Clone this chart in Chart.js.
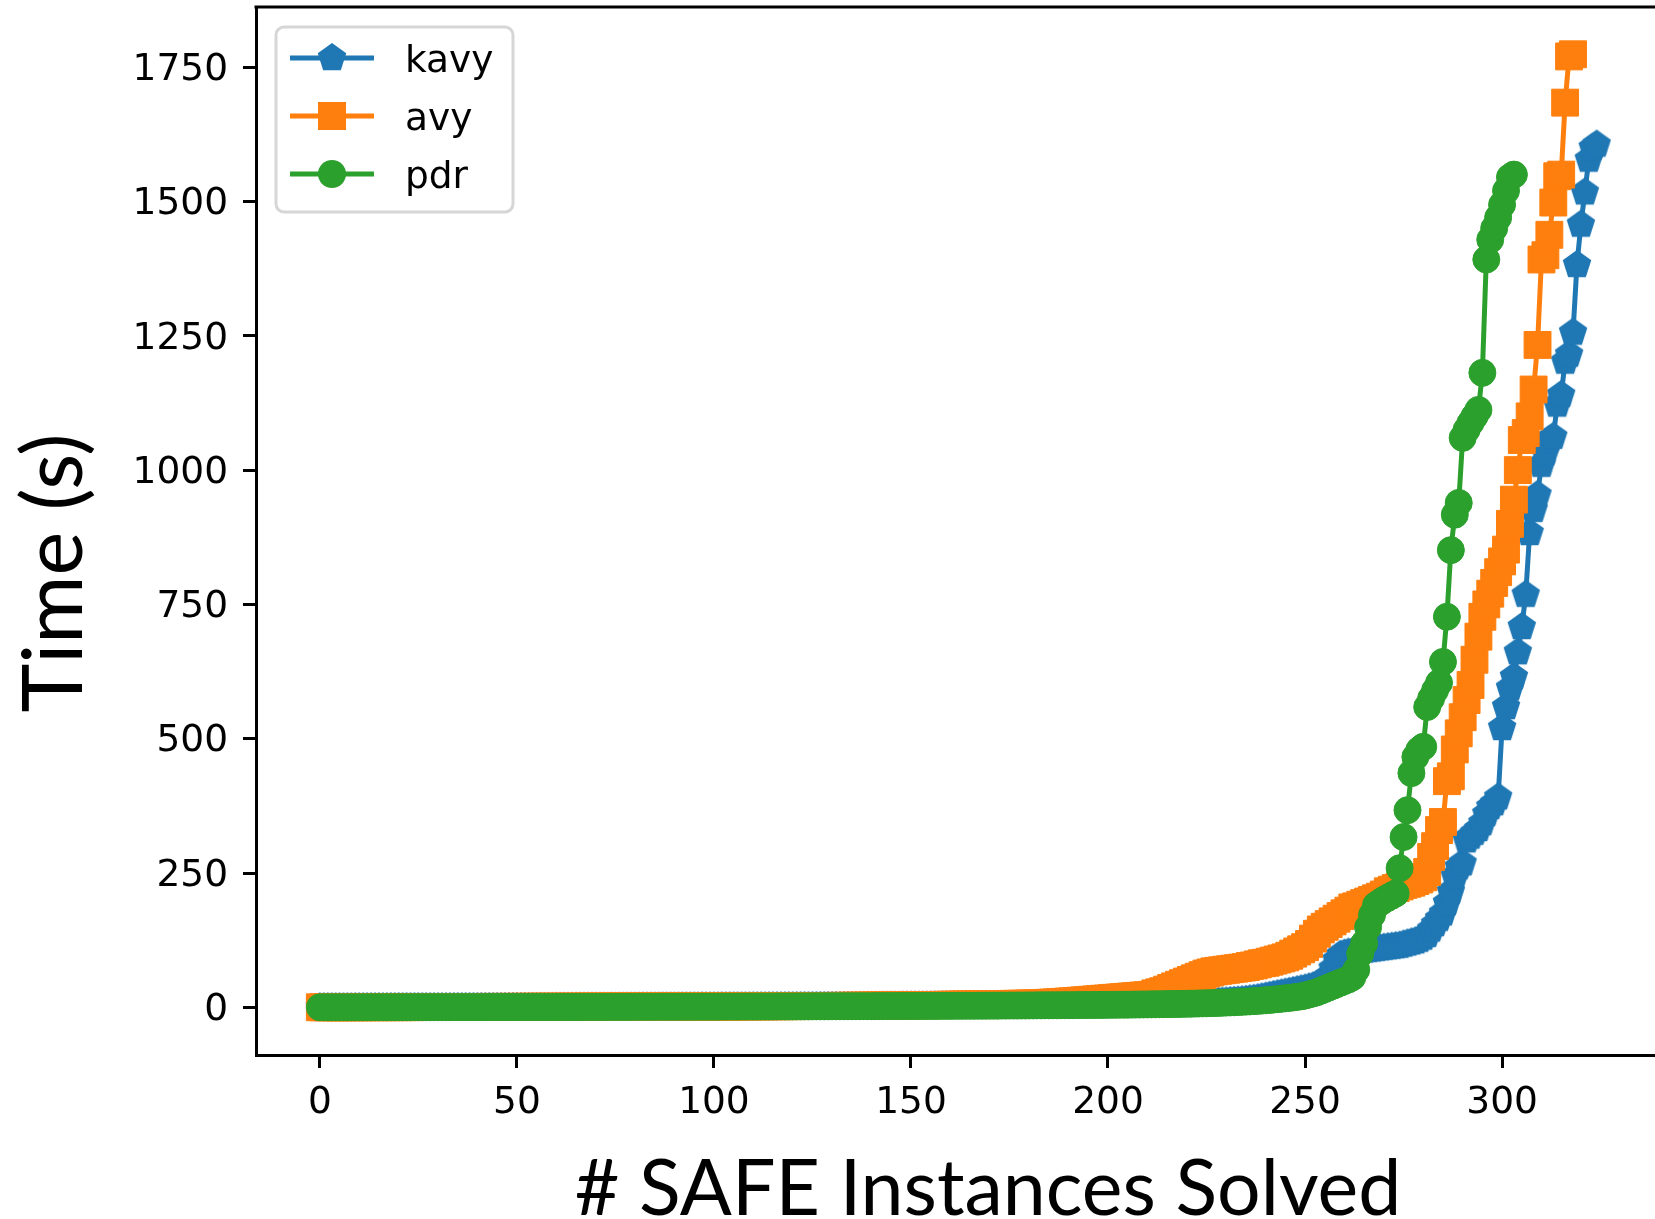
<!DOCTYPE html>
<html>
<head>
<meta charset="utf-8">
<script src="https://cdn.jsdelivr.net/npm/chart.js@4.4.1/dist/chart.umd.min.js"></script>
<style>
  html, body { margin: 0; padding: 0; overflow: hidden; background: #fff; }
  canvas { display: block; }
</style>
</head>
<body>
<canvas id="chart" width="1725" height="1219"></canvas>
<script>
// sorted solve times (s), one entry per solved instance, index = x
const kavyTimes = [
  0.1,0.1,0.1,0.1,0.1,0.1,0.1,0.1,0.1,0.2, 0.2,0.2,0.2,0.2,0.2,0.2,0.2,0.2,0.3,0.3,
  0.3,0.3,0.3,0.3,0.3,0.3,0.3,0.4,0.4,0.4, 0.4,0.4,0.4,0.4,0.5,0.5,0.5,0.5,0.5,0.5,
  0.5,0.6,0.6,0.6,0.6,0.6,0.6,0.6,0.7,0.7, 0.7,0.7,0.7,0.7,0.8,0.8,0.8,0.8,0.8,0.8,
  0.9,0.9,0.9,0.9,0.9,0.9,1.0,1.0,1.0,1.0, 1.0,1.0,1.1,1.1,1.1,1.1,1.1,1.2,1.2,1.2,
  1.2,1.2,1.3,1.3,1.3,1.3,1.3,1.4,1.4,1.4, 1.4,1.4,1.5,1.5,1.5,1.5,1.5,1.6,1.6,1.6,
  1.6,1.6,1.7,1.7,1.7,1.7,1.8,1.8,1.8,1.8, 1.9,1.9,1.9,1.9,2.0,2.0,2.0,2.0,2.1,2.1,
  2.1,2.2,2.2,2.2,2.2,2.3,2.3,2.3,2.4,2.4, 2.4,2.5,2.5,2.5,2.6,2.6,2.6,2.7,2.7,2.7,
  2.8,2.8,2.8,2.9,2.9,3.0,3.0,3.0,3.1,3.1, 3.1,3.2,3.2,3.3,3.3,3.3,3.4,3.4,3.5,3.5,
  3.6,3.6,3.6,3.7,3.7,3.8,3.8,3.9,3.9,4.0, 4.0,4.1,4.1,4.2,4.2,4.3,4.3,4.4,4.4,4.5,
  4.5,4.6,4.7,4.7,4.8,4.8,4.9,5.0,5.0,5.1, 5.2,5.2,5.3,5.4,5.4,5.5,5.6,5.7,5.8,5.8,
  5.9,6.0,6.1,6.2,6.3,6.4,6.5,6.6,6.7,6.8, 6.9,7.0,7.2,7.3,7.4,7.6,7.7,7.9,8.0,8.2,
  8.4,8.6,8.8,9.0,9.2,9.4,9.7,10.0,10.3,10.7, 11.1,11.6,12.1,12.6,13.2,14,15,16,17,18.5,
  20,21.5,23,24.5,26,27.5,29,30.5,32,33.5, 35,37,39,42,46,50,58,72,88,98,
  100,102,103,104,105,106,107,108,109,110, 111,112,113,114,115,117,119,121,123,126,
  130,135,145,155,165,175,194,215,244,261, 268,311,318,325,332,343,360,373,380,391,
  520,559,594,615,661,708,768,883,926,954, 1010,1032,1056,1062,1122,1140,1202,1215,1256,1382,
  1457,1517,1578,1600,1606
];
const avyTimes = [
  0.1,0.1,0.1,0.1,0.1,0.2,0.2,0.2,0.2,0.2, 0.2,0.2,0.3,0.3,0.3,0.3,0.3,0.3,0.4,0.4,
  0.4,0.4,0.4,0.4,0.4,0.5,0.5,0.5,0.5,0.5, 0.5,0.6,0.6,0.6,0.6,0.6,0.7,0.7,0.7,0.7,
  0.7,0.7,0.8,0.8,0.8,0.8,0.8,0.9,0.9,0.9, 0.9,0.9,1.0,1.0,1.0,1.0,1.0,1.0,1.1,1.1,
  1.1,1.1,1.1,1.2,1.2,1.2,1.2,1.2,1.3,1.3, 1.3,1.3,1.3,1.3,1.4,1.4,1.4,1.4,1.4,1.4,
  1.4,1.4,1.5,1.5,1.5,1.5,1.5,1.5,1.5,1.5, 1.5,1.5,1.5,1.5,1.5,1.5,1.5,1.6,1.6,1.6,
  1.6,1.6,1.7,1.7,1.7,1.8,1.8,1.8,1.9,1.9, 1.9,2.0,2.0,2.0,2.1,2.1,2.1,2.2,2.2,2.2,
  2.3,2.3,2.3,2.4,2.4,2.4,2.5,2.5,2.6,2.6, 2.7,2.7,2.8,2.8,2.9,2.9,3.0,3.0,3.1,3.1,
  3.2,3.3,3.3,3.4,3.5,3.5,3.6,3.7,3.7,3.8, 3.9,4.0,4.0,4.1,4.2,4.3,4.4,4.5,4.6,4.7,
  4.8,4.9,5.0,5.1,5.2,5.3,5.4,5.6,5.7,5.8, 5.9,6.0,6.1,6.2,6.3,6.4,6.5,6.6,6.7,6.8,
  7.0,7.2,7.5,7.8,8.1,8.5,8.9,9.3,9.8,10.3, 10.8,11.3,11.8,12.4,13.0,13.6,14.2,14.8,15.4,16.0,
  16.6,17.2,17.8,18.4,19.0,19.6,20.2,20.8,21.4,22.0, 22.6,23.2,26,28,30,33,36,39,42,45,
  48,51,54,57,60,63,65,67,68,69, 70,71,72,73,74,75,77,78,80,82,
  83,85,87,89,91,93,96,100,104,108, 112,118,128,137,145,150,155,160,165,170,
  175,180,186,188,191,194,197,200,203,206, 210,216,219,222,225,228,230,232,235,238,
  242,252,280,300,330,345,421,430,480,510, 540,572,600,647,690,727,750,770,790,810,
  830,852,900,945,1000,1056,1069,1100,1150,1233, 1392,1400,1438,1498,1547,1550,1684,1770,1774
];
const pdrTimes = [
  0.1,0.1,0.1,0.1,0.1,0.1,0.1,0.1,0.1,0.1, 0.1,0.1,0.1,0.2,0.2,0.2,0.2,0.2,0.2,0.2,
  0.2,0.2,0.2,0.2,0.3,0.3,0.3,0.3,0.3,0.3, 0.3,0.3,0.3,0.3,0.4,0.4,0.4,0.4,0.4,0.4,
  0.4,0.4,0.4,0.5,0.5,0.5,0.5,0.5,0.5,0.5, 0.5,0.5,0.6,0.6,0.6,0.6,0.6,0.6,0.6,0.6,
  0.7,0.7,0.7,0.7,0.7,0.7,0.7,0.8,0.8,0.8, 0.8,0.8,0.8,0.8,0.9,0.9,0.9,0.9,0.9,0.9,
  1.0,1.0,1.0,1.0,1.0,1.0,1.1,1.1,1.1,1.1, 1.1,1.1,1.2,1.2,1.2,1.2,1.2,1.3,1.3,1.3,
  1.3,1.3,1.4,1.4,1.4,1.4,1.4,1.5,1.5,1.5, 1.5,1.5,1.6,1.6,1.6,1.6,1.7,1.7,1.7,1.7,
  1.7,1.8,1.8,1.8,1.8,1.9,1.9,1.9,1.9,2.0, 2.0,2.0,2.0,2.1,2.1,2.1,2.1,2.2,2.2,2.2,
  2.2,2.3,2.3,2.3,2.3,2.4,2.4,2.4,2.5,2.5, 2.5,2.5,2.6,2.6,2.6,2.7,2.7,2.7,2.8,2.8,
  2.8,2.9,2.9,2.9,3.0,3.0,3.0,3.1,3.1,3.1, 3.2,3.2,3.2,3.3,3.3,3.4,3.4,3.4,3.5,3.5,
  3.6,3.6,3.7,3.7,3.8,3.8,3.9,3.9,4.0,4.0, 4.1,4.1,4.2,4.2,4.3,4.3,4.4,4.5,4.5,4.6,
  4.7,4.7,4.8,4.9,5.0,5.0,5.1,5.2,5.3,5.4, 5.5,5.6,5.7,5.8,5.9,6.0,6.1,6.3,6.4,6.5,
  6.7,6.8,7.0,7.2,7.4,7.6,7.8,8.0,8.3,8.6, 8.9,9.2,9.5,9.9,10.3,10.7,11.1,11.6,12.1,12.6,
  13.2,13.8,14.5,15.2,16,16.8,17.6,18.5,19.5,20.5, 22,24,26,28,31,34,37,40,43,46,
  49,52,56,70,100,119,149,172,190,195, 200,204,208,212,259,317,367,436,466,479,
  485,559,575,590,604,643,727,851,917,939, 1060,1075,1088,1100,1112,1181,1392,1429,1450,1470,
  1494,1520,1545,1550
];
const seriesNames = ['kavy', 'avy', 'pdr'];
const seriesColors = ['#1f77b4', '#ff7f0e', '#2ca02c'];
const xTicks = [0, 50, 100, 150, 200, 250, 300];
const yTicks = [0, 250, 500, 750, 1000, 1250, 1500, 1750];

const tickFont = { family: 'DejaVu Sans', size: 37.5 };
const titleFont = 'Lato';

// matplotlib-style pentagon marker as an image
function pentagonMarker(color, r) {
  const c = document.createElement('canvas');
  const size = Math.ceil(r * 2 + 4);
  c.width = size;
  c.height = size;
  const g = c.getContext('2d');
  g.beginPath();
  for (let k = 0; k < 5; k++) {
    const a = -Math.PI / 2 + k * 2 * Math.PI / 5;
    const px = size / 2 + r * Math.cos(a);
    const py = size / 2 + r * Math.sin(a);
    if (k === 0) g.moveTo(px, py); else g.lineTo(px, py);
  }
  g.closePath();
  g.fillStyle = color;
  g.fill();
  return c;
}
const pentagon = pentagonMarker(seriesColors[0], 15);

const toPoints = arr => arr.map((v, i) => ({ x: i, y: v }));

// legend box + top/right spines + y title, drawn the matplotlib way
const extras = {
  id: 'extras',
  afterDraw(chart) {
    const { ctx, chartArea: a } = chart;
    ctx.save();
    ctx.strokeStyle = '#000';
    ctx.lineWidth = 3;
    ctx.beginPath();
    ctx.moveTo(a.left - 1.5, a.top);
    ctx.lineTo(a.right, a.top);
    ctx.lineTo(a.right, a.bottom);
    ctx.stroke();

    // y axis title
    ctx.save();
    ctx.translate(82, 573);
    ctx.rotate(-Math.PI / 2);
    ctx.font = `83px ${titleFont}`;
    ctx.fillStyle = '#000';
    ctx.textAlign = 'center';
    ctx.textBaseline = 'alphabetic';
    ctx.fillText('Time (s)', 0, 0);
    ctx.restore();

    // legend
    const bx = a.left + 20, by = a.top + 20, bw = 237, bh = 185;
    ctx.beginPath();
    ctx.roundRect(bx, by, bw, bh, 8);
    ctx.fillStyle = 'rgba(255,255,255,0.8)';
    ctx.fill();
    ctx.strokeStyle = '#d6d6d6';
    ctx.lineWidth = 3;
    ctx.stroke();

    ctx.font = `${tickFont.size}px ${tickFont.family}`;
    ctx.textBaseline = 'alphabetic';
    ctx.textAlign = 'left';
    chart.data.datasets.forEach((ds, k) => {
      const ry = by + 31 + k * 58;
      const mx = bx + 56;
      ctx.strokeStyle = ds.borderColor;
      ctx.lineWidth = ds.borderWidth;
      ctx.beginPath();
      ctx.moveTo(bx + 14, ry);
      ctx.lineTo(bx + 98, ry);
      ctx.stroke();
      ctx.fillStyle = ds.borderColor;
      if (ds.pointStyle === 'rect') {
        ctx.fillRect(mx - 14, ry - 14, 28, 28);
      } else if (ds.pointStyle === 'circle') {
        ctx.beginPath();
        ctx.arc(mx, ry, 14, 0, Math.PI * 2);
        ctx.fill();
      } else {
        ctx.drawImage(ds.pointStyle, mx - ds.pointStyle.width / 2, ry - ds.pointStyle.height / 2);
      }
      ctx.fillStyle = '#000';
      ctx.fillText(ds.label, bx + 129, ry + 14);
    });
    ctx.restore();
  }
};

const base = { borderWidth: 5, tension: 0, fill: false, pointBorderWidth: 1 };

new Chart(document.getElementById('chart'), {
  type: 'line',
  data: {
    datasets: [
      Object.assign({}, base, {
        label: seriesNames[0], data: toPoints(kavyTimes),
        borderColor: seriesColors[0], backgroundColor: seriesColors[0],
        pointStyle: pentagon, pointRadius: 14, order: 3
      }),
      Object.assign({}, base, {
        label: seriesNames[1], data: toPoints(avyTimes),
        borderColor: seriesColors[1], backgroundColor: seriesColors[1],
        pointBorderColor: seriesColors[1],
        pointStyle: 'rect', pointRadius: 19, order: 2
      }),
      Object.assign({}, base, {
        label: seriesNames[2], data: toPoints(pdrTimes),
        borderColor: seriesColors[2], backgroundColor: seriesColors[2],
        pointBorderColor: seriesColors[2],
        pointStyle: 'circle', pointRadius: 13.5, order: 1
      })
    ]
  },
  options: {
    responsive: false,
    animation: false,
    events: [],
    layout: { autoPadding: false, padding: { top: 7, right: 5, left: 0, bottom: 0 } },
    plugins: { legend: { display: false }, tooltip: { enabled: false } },
    scales: {
      x: {
        type: 'linear',
        min: -16.2,
        max: 355.3,
        afterBuildTicks: s => { s.ticks = xTicks.map(v => ({ value: v })); },
        afterFit: s => { s.height = 164; s.paddingLeft = 0; s.paddingRight = 0; s.paddingTop = 0; s.paddingBottom = 0; },
        grid: { drawOnChartArea: false, drawTicks: true, tickLength: 13, tickWidth: 3, tickColor: '#000' },
        border: { display: true, color: '#000', width: 3 },
        ticks: { color: '#000', font: tickFont, padding: 13, maxRotation: 0, autoSkip: false,
          callback: v => String(v) },
        title: {
          display: true, text: '# SAFE Instances Solved', color: '#000',
          font: { family: titleFont, size: 77, lineHeight: 0.74 }, padding: { top: 0, bottom: 0 }
        }
      },
      y: {
        type: 'linear',
        min: -88.7,
        max: 1862,
        afterBuildTicks: s => { s.ticks = yTicks.map(v => ({ value: v })); },
        afterFit: s => { s.width = 256; s.paddingTop = 0; s.paddingBottom = 0; s.paddingLeft = 0; s.paddingRight = 0; },
        grid: { drawOnChartArea: false, drawTicks: true, tickLength: 13, tickWidth: 3, tickColor: '#000' },
        border: { display: true, color: '#000', width: 3 },
        ticks: { color: '#000', font: tickFont, padding: 15, labelOffset: 3, autoSkip: false,
          callback: v => String(v) }
      }
    }
  },
  plugins: [extras]
});
</script>
</body>
</html>
